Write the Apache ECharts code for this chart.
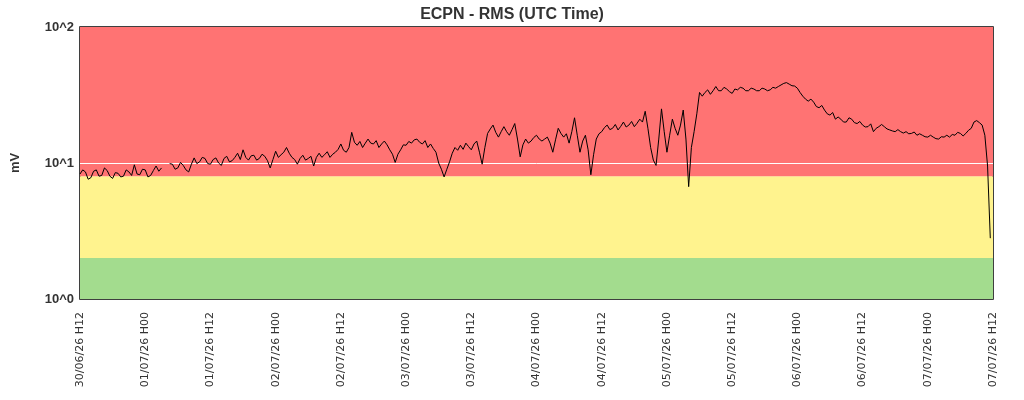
<!DOCTYPE html>
<html>
<head>
<meta charset="utf-8">
<script src="https://cdn.jsdelivr.net/npm/echarts@6/dist/echarts.min.js"></script>
<style>
html,body{margin:0;padding:0;background:#fff;}
#main{width:1024px;height:400px;}
</style>
</head>
<body>
<div id="main"></div>
<script>
// start of the window, 30/06/26 12:00 UTC, one value every half hour
var startTime = Date.UTC(2026, 5, 30, 12);
var hourStep = 0.5;

// RMS values (mV), hour 0 .. 167.5
var rmsValues = [
    8.3, 8.9, 8.6, 7.6, 7.8, 8.7, 8.9, 8.0, 8.1, 9.2,
    8.8, 8.0, 7.7, 8.5, 8.4, 7.9, 8.0, 8.9, 8.6, 8.1,
    9.7, 8.3, 8.2, 9.0, 8.9, 7.9, 8.1, 8.8, 9.5, 8.7,
    9.2, null, null, 9.9, 9.8, 9.0, 9.2, 10.1, 9.6, 8.9,
    8.6, 9.8, 10.9, 9.9, 10.2, 11.0, 10.8, 9.9, 9.8, 10.6,
    10.9, 10.0, 9.6, 10.8, 11.2, 10.2, 10.4, 11.0, 11.8, 10.6,
    12.5, 11.0, 10.5, 11.3, 11.4, 10.5, 10.8, 11.6, 11.2, 10.4,
    9.2, 10.6, 12.2, 11.0, 11.5, 12.0, 13.0, 11.8, 11.0, 10.6,
    9.8, 10.8, 11.4, 10.5, 10.8, 11.2, 9.5, 11.0, 11.8, 11.0,
    11.5, 12.1, 11.0, 11.6, 12.0, 12.6, 13.8, 12.4, 12.0, 13.0,
    16.8, 14.2, 13.5, 14.4, 13.0, 14.0, 15.0, 14.0, 13.8, 14.6,
    13.0, 13.8, 14.5, 13.6, 12.5, 11.6, 10.1, 11.6, 12.5, 13.6,
    13.5, 14.4, 14.0, 14.8, 15.0, 14.2, 13.8, 14.6, 13.0, 13.8,
    12.8, 12.0, 10.0, 9.0, 7.9, 9.0, 10.2, 11.8, 13.0, 12.4,
    13.5, 12.6, 14.0, 13.2, 12.5, 13.8, 14.5, 12.0, 9.8, 13.0,
    16.5, 17.8, 19.0, 16.8, 15.5, 17.0, 18.5, 17.0, 16.0, 17.6,
    19.5, 15.0, 11.1, 13.6, 15.0, 14.0, 14.5, 15.4, 16.0, 15.0,
    14.5, 15.0, 15.5, 14.0, 12.0, 14.8, 18.0, 16.5, 15.5, 16.4,
    14.0, 17.0, 21.5, 16.0, 12.0, 14.5, 16.0, 12.5, 8.2, 11.5,
    15.0, 16.4, 17.0, 18.2, 19.0, 17.6, 18.0, 19.2, 17.5, 18.6,
    20.0, 18.4, 19.0, 20.2, 18.5, 19.6, 21.0, 20.0, 24.0, 18.0,
    13.0, 10.5, 9.6, 15.0, 25.0, 17.0, 12.0, 16.0, 21.0, 18.0,
    16.0, 19.0, 24.5, 15.0, 6.7, 13.0, 17.0, 23.0, 33.0, 31.0,
    33.0, 34.5, 32.0, 34.0, 36.5, 34.0, 34.0, 36.0, 35.0, 33.5,
    32.5, 35.0, 34.5, 36.0, 35.5, 34.0, 34.0, 35.5, 35.0, 34.0,
    34.0, 35.5, 35.0, 34.0, 34.5, 36.0, 35.5, 36.5, 37.5, 38.5,
    39.0, 38.0, 37.0, 36.8, 35.5, 33.0, 31.0, 29.5, 28.5, 29.5,
    28.0, 26.0, 25.5, 26.5, 24.5, 23.0, 22.5, 23.5, 21.0, 21.8,
    21.0, 20.0, 20.0, 21.5, 21.0, 19.8, 19.5, 20.2, 19.0, 18.4,
    18.5, 19.4, 17.0, 18.0, 18.5, 19.2, 18.5, 17.8, 17.5, 17.2,
    17.0, 17.6, 17.0, 16.6, 17.0, 16.4, 16.5, 16.9, 16.0, 16.4,
    16.0, 15.6, 15.5, 16.0, 15.5, 15.1, 15.0, 15.6, 15.5, 16.0,
    15.5, 16.2, 16.0, 16.8, 16.5, 15.8, 16.5, 17.4, 18.0, 20.0,
    20.5, 19.8, 19.0, 16.0, 9.5, 2.8
];

// alert bands (mV)
var bandLimits = [1, 2, 8, 100];
var bandColors = ['#a3dc8e', '#fff38e', '#ff7373'];

var xTicks = { min: 0, max: 168, interval: 12 };

function pad(n) { return n < 10 ? '0' + n : '' + n; }

var seriesData = rmsValues.map(function (v, i) {
    return [i * hourStep, v];
});

var bandAreas = [];
for (var i = 0; i < bandColors.length; i++) {
    bandAreas.push([
        { yAxis: bandLimits[i], itemStyle: { color: bandColors[i], opacity: 1 } },
        { yAxis: bandLimits[i + 1] }
    ]);
}

var dom = document.getElementById('main');
var myChart = echarts.init(dom);
var option = {
    animation: false,
    backgroundColor: '#fff',
    title: {
        text: 'ECPN - RMS (UTC Time)',
        left: 'center',
        top: 2,
        textStyle: {
            fontFamily: 'Liberation Sans',
            fontSize: 16,
            fontWeight: 'bold',
            color: '#333'
        }
    },
    grid: {
        left: 80,
        right: 31,
        top: 27,
        bottom: 101,
        show: true,
        borderColor: '#000',
        borderWidth: 1.5,
        backgroundColor: 'transparent'
    },
    xAxis: {
        type: 'value',
        min: xTicks.min,
        max: xTicks.max,
        interval: xTicks.interval,
        axisLine: { show: false },
        axisTick: { show: false },
        splitLine: { show: false },
        axisLabel: {
            rotate: 90,
            margin: 13,
            fontFamily: 'DejaVu Sans',
            fontSize: 11,
            color: '#333',
            formatter: function (h) {
                var d = new Date(startTime + h * 3600000);
                return pad(d.getUTCDate()) + '/' + pad(d.getUTCMonth() + 1) + '/' +
                    pad(d.getUTCFullYear() % 100) + ' H' + pad(d.getUTCHours());
            }
        }
    },
    yAxis: {
        type: 'log',
        logBase: 10,
        min: 1,
        max: 100,
        name: 'mV',
        nameLocation: 'middle',
        nameGap: 58,
        nameTextStyle: {
            fontFamily: 'Liberation Sans',
            fontSize: 13,
            fontWeight: 'bold',
            color: '#333'
        },
        axisLine: { show: false },
        axisTick: { show: false },
        splitLine: { show: false },
        axisLabel: {
            margin: 6,
            fontFamily: 'Liberation Sans',
            fontSize: 13,
            fontWeight: 'bold',
            color: '#333',
            formatter: function (v) {
                return '10^' + Math.round(Math.log10(v));
            }
        }
    },
    series: [{
        type: 'line',
        z: 10,
        data: seriesData,
        showSymbol: false,
        connectNulls: false,
        lineStyle: { color: '#000', width: 1 },
        markArea: {
            silent: true,
            data: bandAreas
        },
        markLine: {
            silent: true,
            symbol: 'none',
            label: { show: false },
            lineStyle: { color: '#fff', width: 1, type: 'solid' },
            data: [{ yAxis: 10 }]
        }
    }]
};
myChart.setOption(option);
</script>
</body>
</html>
